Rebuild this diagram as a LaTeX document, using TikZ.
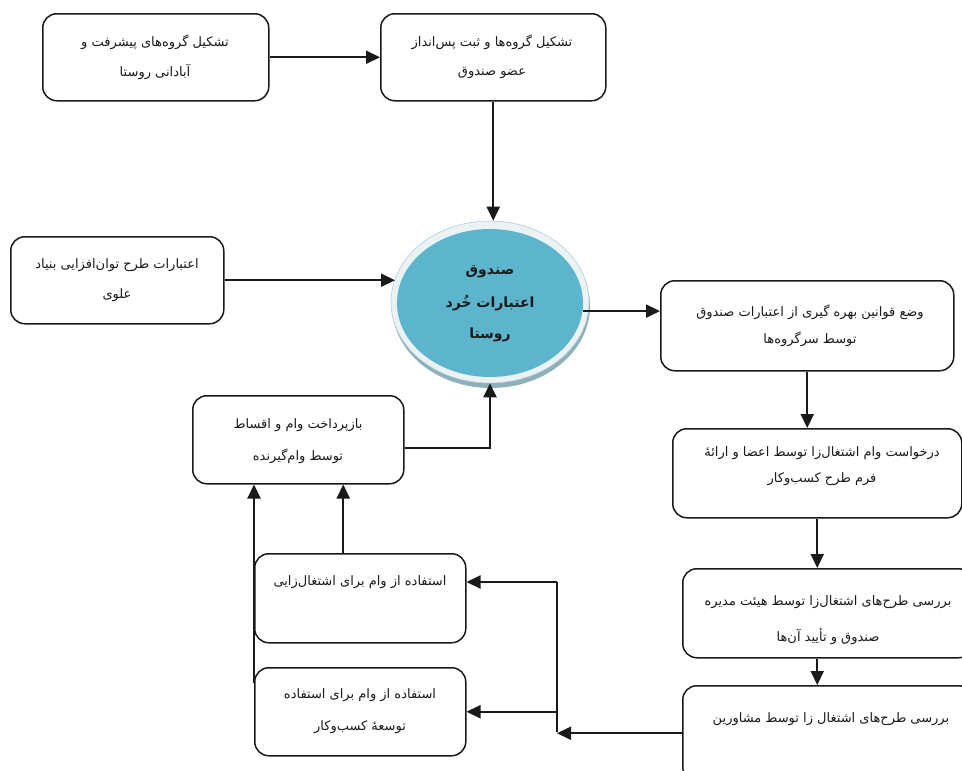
\documentclass[tikz,border=0pt]{standalone}
\usepackage{fontspec}
\newfontfamily\arabicfont[Script=Arabic]{DejaVu Sans}
\TeXXeTstate=1
\usetikzlibrary{arrows.meta,shapes.geometric}
\newcommand\fa[1]{\beginR #1\endR}
\definecolor{ringfill}{HTML}{EAF2F4}
\definecolor{ringshade}{HTML}{8EB0BB}
\definecolor{ringedge}{HTML}{B5CDD4}
\definecolor{fundblue}{HTML}{5CB5CD}
\definecolor{ink}{HTML}{1A1A1A}
\begin{document}
\begin{tikzpicture}[x=1pt,y=-1pt,
  box/.style={draw=ink, line width=1.5pt, rounded corners=14pt, fill=white, anchor=north west, inner sep=0pt},
  txt/.style={font=\arabicfont\fontsize{13}{15}\selectfont, inner sep=0pt, text=ink},
  bold/.style={font=\arabicfont\bfseries\fontsize{14}{16}\selectfont, inner sep=0pt, text=ink},
  conn/.style={draw=ink, line width=2pt},
  arr/.style={draw=ink, line width=2pt, -{Triangle[length=14pt,width=13pt]}}]
\useasboundingbox (0,0) rectangle (962,771);
\fill[white] (0,0) rectangle (962,771);

% boxes
\node[box, minimum width=226pt, minimum height=87pt] (A) at (42,13) {};
\node[box, minimum width=225pt, minimum height=87pt] (B) at (380,13) {};
\node[box, minimum width=213pt, minimum height=87pt] (C) at (10,236) {};
\node[box, minimum width=293pt, minimum height=90pt] (D) at (660,280) {};
\node[box, minimum width=289pt, minimum height=89pt] (E) at (672,428) {};
\node[box, minimum width=290pt, minimum height=89pt] (F) at (682,568) {};
\node[box, minimum width=290pt, minimum height=95pt] (G) at (682,685) {};
\node[box, minimum width=211pt, minimum height=88pt] (H) at (192,395) {};
\node[box, minimum width=211pt, minimum height=89pt] (I) at (254,553) {};
\node[box, minimum width=211pt, minimum height=88pt] (J) at (254,667) {};

% central ellipse
\fill[ringshade] (491,306) ellipse [x radius=99, y radius=82];
\node[ellipse, draw=ringedge, line width=0.6pt, fill=ringfill, minimum width=198pt, minimum height=162pt, inner sep=0pt] (circ) at (490,302) {};
\node[ellipse, fill=fundblue, minimum width=186pt, minimum height=148pt, inner sep=0pt] (core) at (490,303) {};

% texts
\node[txt] (tA1) at (155,42) {\fa{تشکیل گروه‌های پیشرفت و}};
\node[txt] (tA2) at (155,72) {\fa{آبادانی روستا}};
\node[txt] (tB1) at (492,42) {\fa{تشکیل گروه‌ها و ثبت پس‌انداز}};
\node[txt] (tB2) at (492,73) {\fa{عضو صندوق}};
\node[txt] (tC1) at (117,265) {\fa{اعتبارات طرح توان‌افزایی بنیاد}};
\node[txt] (tC2) at (117,295) {\fa{علوی}};
\node[bold] (tO1) at (490,272) {\fa{صندوق}};
\node[bold] (tO2) at (490,303) {\fa{اعتبارات خُرد}};
\node[bold] (tO3) at (490,335) {\fa{روستا}};
\node[txt] (tD1) at (810,312) {\fa{وضع قوانین بهره گیری از اعتبارات صندوق}};
\node[txt] (tD2) at (810,339) {\fa{توسط سرگروه‌ها}};
\node[txt] (tE1) at (822,453) {\fa{درخواست وام اشتغال‌زا توسط اعضا و ارائهٔ}};
\node[txt] (tE2) at (822,479) {\fa{فرم طرح کسب‌وکار}};
\node[txt] (tF1) at (828,602) {\fa{بررسی طرح‌های اشتغال‌زا توسط هیئت مدیره}};
\node[txt] (tF2) at (828,636) {\fa{صندوق و تأیید آن‌ها}};
\node[txt] (tG1) at (831,719) {\fa{بررسی طرح‌های اشتغال زا توسط مشاورین}};
\node[txt] (tH1) at (298,425) {\fa{بازپرداخت وام و اقساط}};
\node[txt] (tH2) at (298,456) {\fa{توسط وام‌گیرنده}};
\node[txt] (tI1) at (360,582) {\fa{استفاده از وام برای اشتغال‌زایی}};
\node[txt] (tJ1) at (360,695) {\fa{استفاده از وام برای استفاده}};
\node[txt] (tJ2) at (360,727) {\fa{توسعهٔ کسب‌وکار}};

% connectors
\draw[arr] (A.east) -- (B.west);
\draw[arr] (B.south) -- (B.south |- circ.north);
\draw[arr] (C.east) -- (C.east -| circ.166);
\draw[arr] (core.-5) -- (core.-5 -| D.west);
\draw[arr] (D.south) -- (D.south |- E.north);
\draw[arr] (E.south) -- (E.south |- F.north);
\draw[arr] (E.south |- F.south) -- (E.south |- G.north);

\coordinate (jt) at (557,582);
\coordinate (jb) at (557,732);
\draw[arr] (G.west) -- (G.west -| jt);
\draw[conn] (jt) -- (jb);
\draw[arr] (jt) -- (jt -| I.east);
\draw[arr] (J.east -| jt) -- (J.east);

\draw[arr] ([yshift=-8pt]H.east) -| (circ.south);
\draw[arr] ([xshift=-17pt]I.north) -- ([xshift=-17pt]I.north |- H.south);
\draw[arr] ([yshift=-16pt]J.north west) -- (J.north west |- H.south);
\end{tikzpicture}
\end{document}
